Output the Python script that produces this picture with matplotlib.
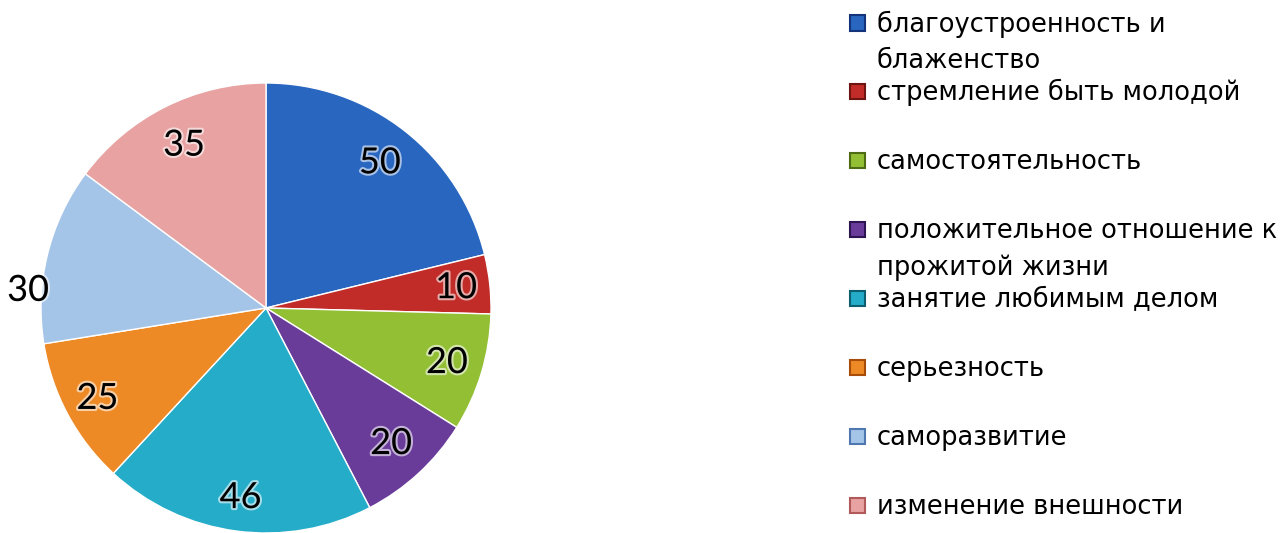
# Pie chart with a manually placed legend on the right

import matplotlib

matplotlib.use("Agg")
import matplotlib.patheffects as pe
import matplotlib.pyplot as plt
import numpy as np
from matplotlib.patches import Rectangle

# --------------------------------------------------------------------
# Data
# --------------------------------------------------------------------

LABELS = [
    "благоустроенность и\nблаженство",
    "стремление быть молодой",
    "самостоятельность",
    "положительное отношение к\nпрожитой жизни",
    "занятие любимым делом",
    "серьезность",
    "саморазвитие",
    "изменение внешности",
]
VALUES = [50, 10, 20, 20, 46, 25, 30, 35]
COLORS = [
    "#2866C0", "#C12C28", "#93BF35", "#693C9A",
    "#24ACC8", "#EE8A26", "#A4C4E8", "#E8A2A2",
]
EDGE_COLORS = [
    "#13337A", "#6E1411", "#4E6B15", "#2D1552",
    "#0E5E72", "#A84C09", "#4F78B0", "#B25A5A",
]

W, H = 1288, 533


def main():
    fig = plt.figure(figsize=(W / 100, H / 100), dpi=100)

    # pie axes: centre (266, 308) px from top-left, radius 225 px
    cx, cy, r = 266, 308, 225
    ax = fig.add_axes([(cx - r) / W, (H - cy - r) / H, 2 * r / W, 2 * r / H])
    wedges, _ = ax.pie(
        VALUES,
        colors=COLORS,
        startangle=90,
        counterclock=False,
        radius=1.0,
        wedgeprops=dict(edgecolor="white", linewidth=1.0),
    )
    ax.set_xlim(-1, 1)
    ax.set_ylim(-1, 1)
    ax.set_aspect("equal")
    for w in wedges:
        w.set_clip_on(False)

    # value labels, one slice sits outside like Excel's best fit
    dist = [0.82, 0.85, 0.84, 0.82, 0.85, 0.85, 1.06, 0.81]
    shift = [0, 0, 0, 0, 0, 0, 9.5, 0]
    for w, v, d, s in zip(wedges, VALUES, dist, shift):
        ang = np.deg2rad((w.theta1 + w.theta2) / 2 + s)
        ax.text(
            d * np.cos(ang), d * np.sin(ang), str(v),
            ha="center", va="center", fontsize=26, family="Lato",
            color="black", clip_on=False,
            path_effects=[pe.withStroke(linewidth=3, foreground="white", alpha=0.6)],
        )

    # legend drawn by hand (Excel layout: wrapped lines do not push rows)
    top, step, line_gap = 23, 68.9, 37
    for i, (label, col, ec) in enumerate(zip(LABELS, COLORS, EDGE_COLORS)):
        yc = top + i * step
        fig.patches.append(
            Rectangle(
                ((850) / W, (H - yc - 7.5) / H), 15 / W, 15 / H,
                transform=fig.transFigure, facecolor=col, edgecolor=ec,
                linewidth=1.5,
            )
        )
        for j, line in enumerate(label.split("\n")):
            fig.text(
                877 / W, (H - (yc + 8.5 + j * line_gap)) / H, line,
                ha="left", va="baseline", fontsize=18.5,
                family="DejaVu Sans", color="black",
            )

    fig.savefig("out.png", dpi=100, facecolor="white")


if __name__ == "__main__":
    main()
